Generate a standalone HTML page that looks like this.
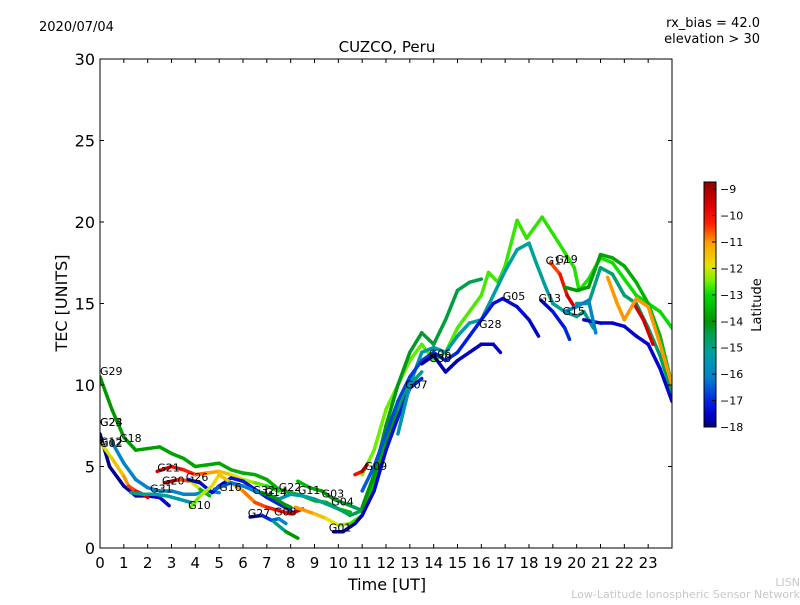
<!DOCTYPE html>
<html><head><meta charset="utf-8"><style>
body{margin:0;background:#fff;}
svg text{font-family:"DejaVu Sans","Liberation Sans",sans-serif;}
</style></head><body>
<svg id="chart" width="800" height="600" viewBox="0 0 800 600" xmlns="http://www.w3.org/2000/svg">
<defs>
<linearGradient id="jet" x1="0" y1="1" x2="0" y2="0"></linearGradient>
<clipPath id="plotclip"><rect x="100" y="59" width="572" height="489"/></clipPath>
</defs>
<text x="39" y="31" font-size="13">2020/07/04</text>
<text x="760" y="27" font-size="13" text-anchor="end">rx_bias = 42.0</text>
<text x="760" y="43" font-size="13" text-anchor="end">elevation &gt; 30</text>
<text x="387" y="52" font-size="15" text-anchor="middle">CUZCO, Peru</text>
<rect x="100" y="59" width="572" height="489" fill="#fff" stroke="none"/>
<g id="tracks" clip-path="url(#plotclip)"></g>
<g id="labels"></g>
<rect x="100" y="59" width="572" height="489" fill="none" stroke="#000" stroke-width="1"/>
<g id="axes"></g>
<text x="387" y="590" font-size="16" text-anchor="middle">Time [UT]</text>
<text transform="translate(67,303) rotate(-90)" font-size="16" text-anchor="middle">TEC [UNITS]</text>
<rect x="704" y="182" width="12" height="245" fill="url(#jet)" stroke="#000" stroke-width="1"/>
<g id="cbticks"></g>
<text transform="translate(761,305) rotate(-90)" font-size="13" text-anchor="middle">Latitude</text>
<text x="800" y="586" font-size="11" fill="#c8c8c8" text-anchor="end">LISN</text>
<text x="800" y="598" font-size="11" fill="#c8c8c8" text-anchor="end">Low-Latitude Ionospheric Sensor Network</text>
</svg>
<script>
const xTicks=[0,1,2,3,4,5,6,7,8,9,10,11,12,13,14,15,16,17,18,19,20,21,22,23];
const yTicks=[0,5,10,15,20,25,30];
const cbTicks=[-9,-10,-11,-12,-13,-14,-15,-16,-17,-18];
const trackNames=["G29","G24","G18","G12","G21","G20","G26","G10","G16","G27","G08","G14","G22","G03","G01","A1","A2","A3","G05","A5","G13","G17","A7","A8","A9","A10","A11","G15","G31","G09"];
const trackLat=[[-14,-13.5],[-18,-17.5],[-16,-16],[-12,-9.5],[-9.5,-13],[-9,-13.5],[-17.5,-17],[-12.5,-9.5],[-16.5,-14.5],[-17.5,-16],[-15,-14],[-14,-14],[-13.5,-14.5],[-11,-15],[-18,-17],[-12.5,-13],[-14,-14.5],[-15.5,-15],[-16.5,-17.5],[-17.8,-17.5],[-17.5,-17],[-10.5,-9.5],[-14,-13.5],[-15,-14.5],[-17.5,-17.5],[-9.5,-9.5],[-11,-11],[-16,-16],[-15,-15.5],[-10,-9]];
const trackPts=[
[[0,10.5],[0.5,8.5],[1,6.8],[1.5,6.0],[2,6.1],[2.5,6.2],[3,5.8],[3.5,5.5],[4,5],[4.5,5.1],[5,5.2],[5.5,4.8],[6,4.6],[6.5,4.5],[7,4.2],[7.5,3.6],[8,3.4],[8.5,3.2],[9,2.9],[9.5,2.8],[10,2.4],[10.5,2.2]],
[[0,7],[0.4,5],[1,3.8],[1.5,3.2],[2,3.2],[2.5,3.1],[2.9,2.6]],
[[0.5,6.5],[1,5.2],[1.5,4.2],[2,3.7],[2.5,3.5],[3,3.5],[3.5,3.3],[4,3.3],[4.5,3.5],[5,3.4]],
[[0,6.5],[0.5,5.5],[1,4.4],[1.2,3.8],[1.5,3.5],[1.8,3.3],[2,3.1]],
[[2.4,4.7],[3,5],[3.5,4.8],[4,4.5],[4.5,4.6],[5,4.7],[5.5,4.5],[6,4.2],[6.5,4],[7,3.8],[7.5,3.5]],
[[2.7,4],[3.3,4.2],[3.8,4.1],[4.2,3.6],[4.6,3.2]],
[[3.7,4.2],[4.2,4],[4.7,3.4],[5,3.8],[5.5,4.3],[6,4.1],[6.5,3.6],[7,3.1],[7.5,2.7],[8,2.3]],
[[3.8,2.5],[4.2,3.2],[4.7,3.8],[5,4.5],[5.5,4],[6,3.5],[6.5,2.8],[7,2.5],[7.5,2.3],[8,2.1],[8.5,2.4]],
[[4.8,3.6],[5.5,4],[6,3.8],[6.5,3.5],[7,3.3],[7.5,3],[8,3.3],[8.5,3.2],[9,3],[9.5,2.7],[10,2.4],[10.5,2],[11,2.3]],
[[6.3,1.9],[6.8,2],[7.2,1.7],[7.5,1.8],[7.8,1.5]],
[[7.3,1.6],[7.8,1],[8.3,0.6]],
[[6.8,3.4],[7.3,3.1],[7.7,2.7],[8,2.5]],
[[8.3,4.1],[8.8,3.7],[9.3,3.5],[9.8,3],[10.5,2.6],[11,2.3]],
[[8.2,2.5],[9,2.1],[9.5,1.8],[10,1.4],[10.5,1.5],[11,2],[11.5,4],[12,6.5],[12.5,8.5],[13,10],[13.5,10.8]],
[[9.8,1],[10.2,1],[10.7,1.5],[11,2],[11.5,3.5],[12,6],[12.5,8],[13,9.8],[13.5,10.4]],
[[11,4.5],[11.5,6],[12,8.5],[12.5,10],[13,11.5],[13.5,12.5],[14,11.5],[14.5,12],[15,13.5],[15.5,14.5],[16,15.5],[16.3,16.9],[16.7,16.3],[17,17.3],[17.5,20.1],[17.9,19.0],[18.2,19.6],[18.55,20.3],[19.3,18.6],[19.9,17.2],[20.1,15.8],[20.5,16.5],[21,17.8],[21.5,17.5],[22,16.5],[22.5,15.5],[23,15],[23.5,14.5],[24,13.5]],
[[11,2.5],[11.5,4.5],[12,7.5],[12.5,10],[13,12],[13.5,13.2],[14,12.5],[14.5,14],[15,15.8],[15.5,16.3],[16,16.5]],
[[12.5,7],[13,10],[13.5,12],[14,12.3],[14.5,12],[15,13],[15.5,13.8],[16,14],[16.5,15.5],[17,17],[17.5,18.3],[18,18.7],[18.3,17.5],[18.7,16],[19,15],[19.5,14.5],[20,14.2],[20.3,14.5],[20.7,13.5]],
[[11,3.5],[11.5,5],[12,7],[12.5,9],[13,10.5],[13.5,11.5],[14,12],[14.5,11.5],[15,12],[15.5,13],[16,14],[16.5,15],[16.9,15.3],[17.5,14.8],[18,14],[18.4,13]],
[[13.5,11.3],[14,11.8],[14.5,10.8],[15,11.5],[15.5,12],[16,12.5],[16.5,12.5],[16.8,12]],
[[18.5,15.2],[19,14.5],[19.5,13.5],[19.7,12.8]],
[[18.9,17.5],[19.3,16.8],[19.6,15.5],[19.9,14.8]],
[[19.5,16],[20,15.8],[20.5,16],[21,18],[21.5,17.8],[22,17.3],[22.5,16.3],[23,15],[23.5,13],[24,10]],
[[20,15],[20.5,15],[21,17.2],[21.5,16.8],[22,15.5],[22.5,15],[23,13.5],[23.5,11.8],[24,9.5]],
[[20.3,14],[21,13.8],[21.5,13.8],[22,13.6],[22.5,13],[23,12.5],[23.5,11],[24,9]],
[[22.4,15],[22.8,14],[23.2,12.5]],
[[21.3,16.6],[21.7,15],[22,14],[22.5,15.3],[23,14.8],[23.5,12.5],[24,10]],
[[19.5,14.5],[20,14.8],[20.5,15.2],[20.8,13.2]],
[[1.3,3.4],[1.8,3.3],[2.3,3.3],[2.8,3.2],[3.3,3.0],[3.8,2.8]],
[[10.7,4.5],[11,4.7],[11.2,5.1]]
];
const labelNames=["G29","G24","G23","G12","G02","G18","G21","G20","G26","G31","G10","G16","G32","G14","G22","G11","G27","G08","G03","G04","G01","G09","G07","G06","G30","G28","G05","G13","G17","G19","G15"];
const labelHours=[0,0,0,0,0,0.8,2.4,2.6,3.6,2.1,3.7,5,6.4,6.9,7.5,8.3,6.2,7.3,9.3,9.7,9.6,11.1,12.8,13.8,13.8,15.9,16.9,18.4,18.7,19.1,19.4];
const labelTec=[10.6,7.5,7.5,6.3,6.2,6.5,4.7,3.9,4.1,3.4,2.4,3.5,3.3,3.2,3.5,3.3,1.9,2,3.1,2.6,1,4.8,9.8,11.7,11.4,13.5,15.2,15.1,17.4,17.5,14.3];
const NS="http://www.w3.org/2000/svg";
const X=h=>100+h*572/24, Y=v=>548-v*489/30;
const cbY=l=>427-(l+18)*245/9.27;
const cmap=[[0,[0,0,128]],[0.05,[0,0,200]],[0.1,[0,32,224]],[0.2,[0,128,208]],[0.3,[0,160,160]],[0.38,[0,160,80]],[0.43,[0,150,0]],[0.54,[0,220,0]],[0.6,[128,240,0]],[0.66,[232,224,0]],[0.75,[255,160,0]],[0.83,[255,32,0]],[0.9,[224,0,0]],[1,[144,0,0]]];
function jet(t){t=Math.max(0,Math.min(1,t));
 for(let i=0;i<cmap.length-1;i++){const a=cmap[i],b=cmap[i+1];
  if(t<=b[0]){const f=(t-a[0])/(b[0]-a[0]);const c=a[1].map((v,k)=>Math.round(v+(b[1][k]-v)*f));return `rgb(${c[0]},${c[1]},${c[2]})`;}}
 return 'rgb(144,0,0)';}
const grad=document.getElementById('jet');
cmap.forEach(s=>{const st=document.createElementNS(NS,'stop');st.setAttribute('offset',s[0]);st.setAttribute('stop-color',`rgb(${s[1].join(',')})`);grad.appendChild(st);});
const latT=l=>(l+18)/9.27;
const tg=document.getElementById('tracks');
trackPts.forEach((pts,i)=>{
 const g=document.createElementNS(NS,'g');
 
 
 for(let k=0;k<pts.length-1;k++){
  const f=pts.length>2?k/(pts.length-2):0;
  const lat=trackLat[i][0]+(trackLat[i][1]-trackLat[i][0])*f;
  const ln=document.createElementNS(NS,'line');
  ln.setAttribute('x1',X(pts[k][0]));ln.setAttribute('y1',Y(pts[k][1]));
  ln.setAttribute('x2',X(pts[k+1][0]));ln.setAttribute('y2',Y(pts[k+1][1]));
  ln.setAttribute('stroke',jet(latT(lat)));ln.setAttribute('stroke-width','3.5');ln.setAttribute('stroke-linecap','round');
  g.appendChild(ln);}
 tg.appendChild(g);});
const lg=document.getElementById('labels');
labelNames.forEach((n,i)=>{const t=document.createElementNS(NS,'text');
 
 
 t.setAttribute('x',X(labelHours[i]));t.setAttribute('y',Y(labelTec[i]));t.setAttribute('font-size','11');t.textContent=n;lg.appendChild(t);});
const ag=document.getElementById('axes');
xTicks.forEach(h=>{const x=X(h);
 ag.insertAdjacentHTML('beforeend',`<line x1="${x}" y1="548" x2="${x}" y2="544" stroke="#000"/><line x1="${x}" y1="59" x2="${x}" y2="63" stroke="#000"/>`);
 const t=document.createElementNS(NS,'text');
 
 
 t.setAttribute('x',x);t.setAttribute('y',568);t.setAttribute('font-size','15');t.setAttribute('text-anchor','middle');t.textContent=h;ag.appendChild(t);});
yTicks.forEach(v=>{const y=Y(v);
 ag.insertAdjacentHTML('beforeend',`<line x1="100" y1="${y}" x2="104" y2="${y}" stroke="#000"/><line x1="672" y1="${y}" x2="668" y2="${y}" stroke="#000"/>`);
 const t=document.createElementNS(NS,'text');
 
 
 t.setAttribute('x',95);t.setAttribute('y',y+6);t.setAttribute('font-size','16');t.setAttribute('text-anchor','end');t.textContent=v;ag.appendChild(t);});
const cg=document.getElementById('cbticks');
cbTicks.forEach(l=>{const y=cbY(l);
 cg.insertAdjacentHTML('beforeend',`<line x1="712" y1="${y}" x2="716" y2="${y}" stroke="#000"/>`);
 const t=document.createElementNS(NS,'text');
 
 
 t.setAttribute('x',720);t.setAttribute('y',y+4);t.setAttribute('font-size','11');t.textContent='\u2212'+Math.abs(l);cg.appendChild(t);});
</script>
</body></html>
